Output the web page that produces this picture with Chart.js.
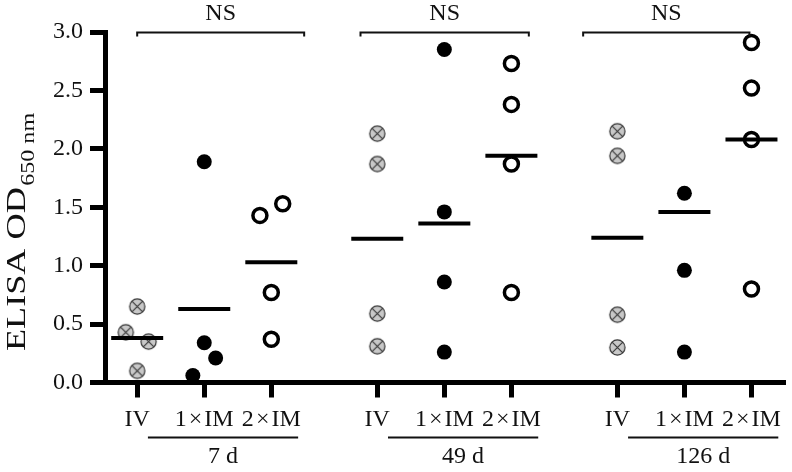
<!DOCTYPE html>
<html>
<head>
<meta charset="utf-8">
<script src="https://cdn.jsdelivr.net/npm/chart.js@4.4.1/dist/chart.umd.min.js"></script>
<style>
  html, body { margin: 0; padding: 0; background: #fff; }
  canvas { display: block; }
</style>
</head>
<body>
<canvas id="chart" width="792" height="472"></canvas>
<script>
// Valores (ELISA OD650 por grupo y tiempo)
const timepoints = ["7 d", "49 d", "126 d"];
const routes = ["IV", "1\u200A×\u200AIM", "2\u200A×\u200AIM"];
const yTicks = [0, 0.5, 1.0, 1.5, 2.0, 2.5, 3.0];

const ivValues = [[0.65, 0.43, 0.35, 0.10], [2.13, 1.87, 0.59, 0.31], [2.15, 1.94, 0.58, 0.30]];
const im1Values = [[1.89, 0.34, 0.21, 0.06], [2.85, 1.46, 0.86, 0.26], [1.62, 0.96, 0.26]];
const im2Values = [[1.43, 1.53, 0.77, 0.37], [2.73, 2.38, 1.87, 0.77], [2.91, 2.52, 2.08, 0.80]];

const ivMeans = [0.38, 1.23, 1.24];
const im1Means = [0.63, 1.36, 1.46];
const im2Means = [1.03, 1.94, 2.08];

// desplazamiento lateral de los puntos que se solapan
const ivJitter = [[0, -1, 1, 0], [0, 0, 0, 0], [0, 0, 0, 0]];
const im1Jitter = [[0, 0, 1, -1], [0, 0, 0, 0], [0, 0, 0]];
const im2Jitter = [[-1, 1, 0, 0], [0, 0, 0, 0], [0, 0, 0, 0]];

const GROUP_STEP = 3.58;  // distancia entre grupos en unidades del eje x
const JITTER = 0.17;
const FONT = '"Liberation Serif", "Times New Roman", serif';
const INK = "#111";

const pos = (g, r) => g * GROUP_STEP + r;
const tickPositions = timepoints.flatMap((_, g) => routes.map((_, r) => pos(g, r)));

function toPoints(values, jitter, r) {
  return values.flatMap((arr, g) => arr.map((v, i) => ({ x: pos(g, r) + jitter[g][i] * JITTER, y: v })));
}

function meanPoints() {
  return [ivMeans, im1Means, im2Means].flatMap((means, r) =>
    means.map((m, g) => ({ x: pos(g, r), y: m })));
}

// marcador gris con aspa
function crossedCircle() {
  const c = document.createElement("canvas");
  c.width = 19; c.height = 19;
  const ctx = c.getContext("2d");
  const r = 7.6, cx = 9.5, cy = 9.5;
  ctx.beginPath();
  ctx.arc(cx, cy, r, 0, Math.PI * 2);
  ctx.fillStyle = "#c8c8c8";
  ctx.fill();
  ctx.lineWidth = 1.2;
  ctx.strokeStyle = "#333";
  ctx.stroke();
  const d = r * Math.SQRT1_2;
  ctx.beginPath();
  ctx.moveTo(cx - d, cy - d); ctx.lineTo(cx + d, cy + d);
  ctx.moveTo(cx - d, cy + d); ctx.lineTo(cx + d, cy - d);
  ctx.lineWidth = 1.1;
  ctx.stroke();
  return c;
}

// título del eje y con subíndice, anotaciones NS y etiquetas de tiempo
const annotations = {
  id: "annotations",
  afterDraw(chart) {
    const { ctx, scales: { x, y } } = chart;
    ctx.save();
    ctx.fillStyle = INK;
    ctx.strokeStyle = INK;

    // título y (en la figura original el texto está estirado a lo largo)
    ctx.save();
    ctx.translate(25, 351);
    ctx.rotate(-Math.PI / 2);
    ctx.scale(1.34, 1);
    ctx.textAlign = "left";
    ctx.textBaseline = "alphabetic";
    ctx.font = "27px " + FONT;
    ctx.fillText("ELISA OD", 0, 0);
    const w = ctx.measureText("ELISA OD").width;
    ctx.font = "18px " + FONT;
    ctx.fillText("650 nm", w + 1, 9);
    ctx.restore();

    // corchetes NS
    const spans = [[0, 2.49], [-0.25, 2.26], [-0.51, 1.97]];
    const by = Math.round(y.getPixelForValue(3)) + 0.5;
    ctx.lineWidth = 2;
    ctx.font = "24px " + FONT;
    ctx.textAlign = "center";
    ctx.textBaseline = "middle";
    spans.forEach(([a, b], g) => {
      const x1 = x.getPixelForValue(pos(g, 0) + a);
      const x2 = x.getPixelForValue(pos(g, 0) + b);
      ctx.beginPath();
      ctx.moveTo(x1, by + 4);
      ctx.lineTo(x1, by);
      ctx.lineTo(x2, by);
      ctx.lineTo(x2, by + 4);
      ctx.stroke();
      ctx.fillText("NS", (x1 + x2) / 2, 14);
    });

    // líneas y etiquetas de tiempo
    timepoints.forEach((label, g) => {
      const x1 = x.getPixelForValue(pos(g, 0) + 0.16);
      const x2 = x.getPixelForValue(pos(g, 0) + 2.4);
      ctx.beginPath();
      ctx.moveTo(x1, 437.5);
      ctx.lineTo(x2, 437.5);
      ctx.stroke();
      ctx.font = "24px " + FONT;
      ctx.fillText(label, (x1 + x2) / 2, 457);
    });
    ctx.restore();
  },
};

new Chart(document.getElementById("chart"), {
  type: "scatter",
  data: {
    datasets: [
      {
        label: "media",
        data: meanPoints(),
        pointStyle: "line",
        pointRadius: 26,
        borderWidth: 4,
        borderColor: "#000",
        order: 0,
      },
      {
        label: "IV",
        data: toPoints(ivValues, ivJitter, 0),
        pointStyle: crossedCircle(),
        order: 3,
      },
      {
        label: "1×IM",
        data: toPoints(im1Values, im1Jitter, 1),
        pointStyle: "circle",
        pointRadius: 7.5,
        backgroundColor: "#000",
        borderWidth: 0,
        order: 2,
      },
      {
        label: "2×IM",
        data: toPoints(im2Values, im2Jitter, 2),
        pointStyle: "circle",
        pointRadius: 7,
        backgroundColor: "#fff",
        borderColor: "#000",
        borderWidth: 3.5,
        order: 1,
      },
    ],
  },
  options: {
    responsive: false,
    animation: false,
    layout: { autoPadding: false, padding: { top: 32, right: 7, left: 0, bottom: 0 } },
    plugins: {
      legend: { display: false },
      tooltip: { enabled: false },
    },
    scales: {
      x: {
        type: "linear",
        min: -0.48,
        max: 9.66,
        afterBuildTicks: (scale) => { scale.ticks = tickPositions.map((v) => ({ value: v })); },
        afterFit: (scale) => {
          scale.height = 89.5;
          scale.paddingLeft = 0;
          scale.paddingRight = 0;
        },
        ticks: {
          callback: (v, i) => routes[i % 3],
          font: { family: FONT, size: 24 },
          color: INK,
          padding: 8,
          maxRotation: 0,
          autoSkip: false,
        },
        grid: { drawOnChartArea: false, tickLength: 15, tickWidth: 5, tickColor: "#000" },
        border: { width: 5, color: "#000" },
      },
      y: {
        min: 0,
        max: 3,
        afterBuildTicks: (scale) => { scale.ticks = yTicks.map((v) => ({ value: v })); },
        afterFit: (scale) => {
          scale.width = 105;
          scale.paddingTop = 0;
          scale.paddingBottom = 0;
        },
        ticks: {
          callback: (v) => v.toFixed(1),
          font: { family: FONT, size: 24 },
          color: INK,
          padding: 7,
        },
        grid: { drawOnChartArea: false, tickLength: 15, tickWidth: 5, tickColor: "#000" },
        border: { width: 5, color: "#000" },
      },
    },
  },
  plugins: [annotations],
});
</script>
</body>
</html>
